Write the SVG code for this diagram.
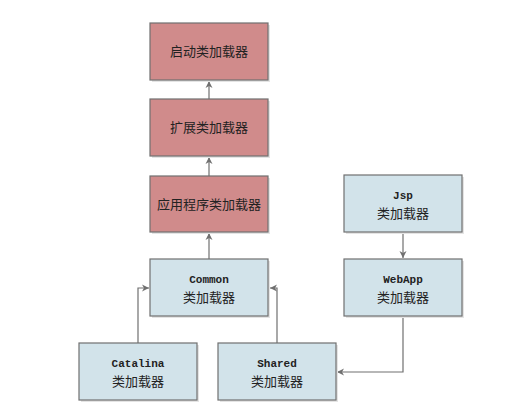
<svg xmlns="http://www.w3.org/2000/svg" width="508" height="415" viewBox="0 0 508 415">
<defs>
<marker id="arr" viewBox="0 0 8 8" refX="7" refY="4" markerWidth="8" markerHeight="8" markerUnits="userSpaceOnUse" orient="auto">
<path d="M0,0.5 L7,4 L0,7.5 L2,4 Z" fill="#707070"/>
</marker>
</defs>
<style>
.red{fill:#d08b8b;stroke:#707070;stroke-width:1.2}
.blue{fill:#d2e3ea;stroke:#707070;stroke-width:1.2}
.sh{fill:#e4e4e4}
.zh{font-family:"Noto Sans CJK SC","Noto Sans",sans-serif;font-size:13px;fill:#222;text-anchor:middle}
.en{font-family:"Liberation Mono",monospace;font-size:11px;font-weight:bold;fill:#222;text-anchor:middle}
.ln{fill:none;stroke:#707070;stroke-width:1.2;marker-end:url(#arr)}
</style>
<rect width="508" height="415" fill="#ffffff"/>
<g id="connectors">
<path class="ln" d="M209,99 V81"/>
<path class="ln" d="M209,176 V157"/>
<path class="ln" d="M209,259 V233"/>
<path class="ln" d="M138,343 V288 H149"/>
<path class="ln" d="M277,343 V288 H270"/>
<path class="ln" d="M403,232 V258"/>
<path class="ln" d="M403,316 V372 H337"/>
</g>
<g id="bootstrap">
<rect class="sh" x="152" y="25" width="118" height="57"/>
<rect class="red" x="150" y="23" width="118" height="57"/>
<text class="zh" x="209" y="56">启动类加载器</text>
</g>
<g id="extension">
<rect class="sh" x="152" y="101" width="118" height="57"/>
<rect class="red" x="150" y="99" width="118" height="57"/>
<text class="zh" x="209" y="132">扩展类加载器</text>
</g>
<g id="application">
<rect class="sh" x="152" y="178" width="118" height="56"/>
<rect class="red" x="150" y="176" width="118" height="56"/>
<text class="zh" x="209" y="209">应用程序类加载器</text>
</g>
<g id="common">
<rect class="sh" x="152" y="261" width="118" height="57"/>
<rect class="blue" x="150" y="259" width="118" height="57"/>
<text class="en" x="209" y="283">Common</text>
<text class="zh" x="209" y="302">类加载器</text>
</g>
<g id="catalina">
<rect class="sh" x="81" y="345" width="118" height="57"/>
<rect class="blue" x="79" y="343" width="118" height="57"/>
<text class="en" x="138" y="367">Catalina</text>
<text class="zh" x="138" y="386">类加载器</text>
</g>
<g id="shared">
<rect class="sh" x="220" y="345" width="118" height="57"/>
<rect class="blue" x="218" y="343" width="118" height="57"/>
<text class="en" x="277" y="367">Shared</text>
<text class="zh" x="277" y="386">类加载器</text>
</g>
<g id="jsp">
<rect class="sh" x="346" y="177" width="118" height="57"/>
<rect class="blue" x="344" y="175" width="118" height="57"/>
<text class="en" x="403" y="199">Jsp</text>
<text class="zh" x="403" y="218">类加载器</text>
</g>
<g id="webapp">
<rect class="sh" x="346" y="261" width="118" height="57"/>
<rect class="blue" x="344" y="259" width="118" height="57"/>
<text class="en" x="403" y="283">WebApp</text>
<text class="zh" x="403" y="302">类加载器</text>
</g>
</svg>
